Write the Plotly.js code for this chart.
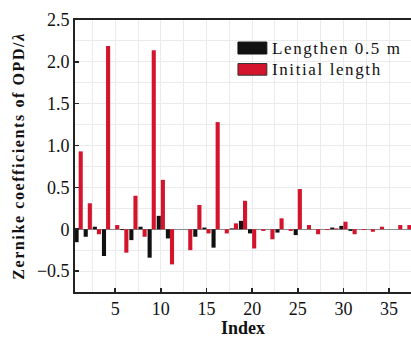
<!DOCTYPE html>
<html>
<head>
<meta charset="utf-8">
<script src="https://cdn.plot.ly/plotly-3.0.1.min.js"></script>
<style>
html,body{margin:0;padding:0;background:#fff;}
#chart{width:411px;height:338px;}
.ytitle{letter-spacing:1.6px;}
.annotation-text{letter-spacing:1.6px;}
</style>
</head>
<body>
<div id="chart"></div>
<script>
const indices = [];
for (let i = 1; i <= 37; i++) indices.push(i);

const lengthenValues = [
  -0.155, -0.09, 0.03, -0.32, 0.0, -0.01, -0.13, 0.03, -0.34, 0.16,
  -0.11, 0.0, 0.0, -0.09, 0.02, -0.22, 0.0, 0.01, 0.10, -0.05,
  0.0, 0.0, -0.04, 0.0, -0.07, 0.0, 0.0, 0.0, 0.02, 0.04,
  -0.02, 0.0, 0.0, 0.0, 0.0, 0.0, 0.0
];
const initialValues = [
  0.93, 0.31, -0.06, 2.19, 0.05, -0.28, 0.40, -0.09, 2.14, 0.59,
  -0.42, 0.0, -0.25, 0.29, -0.05, 1.28, -0.05, 0.07, 0.34, -0.23,
  -0.02, -0.12, 0.13, -0.02, 0.48, 0.05, -0.06, -0.01, 0.01, 0.09,
  -0.06, -0.01, -0.03, 0.03, 0.0, 0.05, 0.05
];
const seriesNames = ["Lengthen 0.5 m", "Initial length"];
const seriesColors = ["#111111", "#d3142c"];
const yTickVals = [-0.5, 0, 0.5, 1.0, 1.5, 2.0, 2.5];
const yTickText = ["\u22120.5", "0", "0.5", "1.0", "1.5", "2.0", "2.5"];
const xTickVals = [5, 10, 15, 20, 25, 30, 35];

const serif = "Liberation Serif";

const traces = [
  {type: "bar", x: indices, y: lengthenValues, name: seriesNames[0],
   marker: {color: seriesColors[0], line: {width: 0}}},
  {type: "bar", x: indices, y: initialValues, name: seriesNames[1],
   marker: {color: seriesColors[1], line: {width: 0}}}
];

const layout = {
  width: 411, height: 338,
  margin: {l: 75, r: 0, t: 20, b: 46},
  paper_bgcolor: "#ffffff", plot_bgcolor: "#ffffff",
  barmode: "group", bargap: 0.1, bargroupgap: 0,
  showlegend: false,
  font: {family: serif, color: "#111", size: 17},
  xaxis: {
    range: [0.6, 37.4],
    tickmode: "array", tickvals: xTickVals,
    ticks: "inside", ticklen: 4, tickwidth: 1.5, tickcolor: "#222",
    showline: true, linecolor: "#222", linewidth: 1.8, mirror: true,
    showgrid: true, gridcolor: "#ebebeb", gridwidth: 1,
    minor: {dtick: 2.5, tick0: 0, showgrid: true, gridcolor: "#ebebeb", gridwidth: 1},
    zeroline: false,
    tickfont: {family: serif, size: 18, color: "#111"},
    title: {text: "<b>Index</b>", font: {family: serif, size: 18, color: "#111"}, standoff: 7}
  },
  yaxis: {
    range: [-0.75, 2.5],
    tickmode: "array", tickvals: yTickVals, ticktext: yTickText,
    ticks: "inside", ticklen: 4, tickwidth: 1.5, tickcolor: "#222",
    showline: true, linecolor: "#222", linewidth: 1.8,
    showgrid: true, gridcolor: "#ebebeb", gridwidth: 1,
    minor: {dtick: 0.25, tick0: 0, showgrid: true, gridcolor: "#ebebeb", gridwidth: 1},
    zeroline: true, zerolinecolor: "#8a8a8a", zerolinewidth: 1.2,
    tickfont: {family: serif, size: 18, color: "#111"},
    title: {text: "<b>Zernike coefficients of OPD/<i>\u03bb</i></b>", font: {family: serif, size: 16, color: "#111"}, standoff: 8}
  },
  shapes: [
    {type: "rect", xref: "paper", yref: "paper", x0: 0.485, x1: 0.571, y0: 0.875, y1: 0.919,
     fillcolor: seriesColors[0], line: {color: "#111", width: 1}},
    {type: "rect", xref: "paper", yref: "paper", x0: 0.485, x1: 0.571, y0: 0.797, y1: 0.840,
     fillcolor: seriesColors[1], line: {color: "#333", width: 1}}
  ],
  annotations: [
    {xref: "paper", yref: "paper", x: 0.58, y: 0.897, xanchor: "left", yanchor: "middle",
     text: seriesNames[0], showarrow: false, font: {family: serif, size: 17, color: "#111"}},
    {xref: "paper", yref: "paper", x: 0.58, y: 0.818, xanchor: "left", yanchor: "middle",
     text: seriesNames[1], showarrow: false, font: {family: serif, size: 17, color: "#111"}}
  ]
};

Plotly.newPlot("chart", traces, layout, {staticPlot: true, displayModeBar: false});
</script>
</body>
</html>
